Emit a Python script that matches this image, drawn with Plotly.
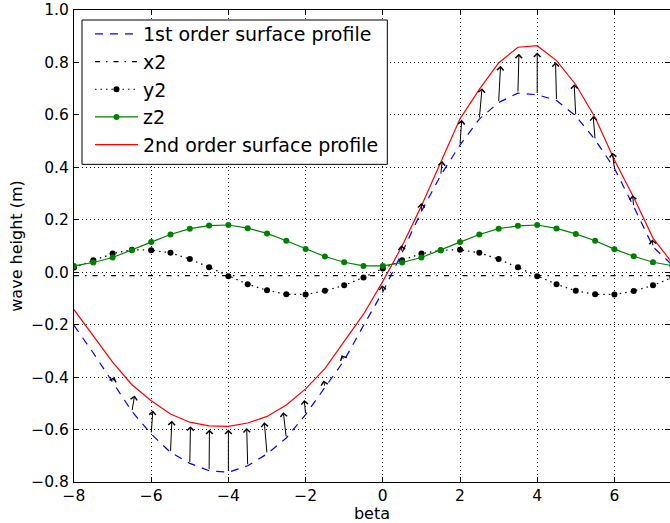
import plotly.graph_objects as go

beta = [-8, -7.5, -7, -6.5, -6, -5.5, -5, -4.5, -4, -3.5, -3, -2.5, -2, -1.5, -1, -0.5,
        0, 0.5, 1, 1.5, 2, 2.5, 3, 3.5, 4, 4.5, 5, 5.5, 6, 6.5, 7, 7.5]

eta1 = [-0.203, -0.308, -0.419, -0.531, -0.617, -0.687, -0.729, -0.757, -0.763, -0.738,
        -0.693, -0.632, -0.543, -0.438, -0.336, -0.203, -0.075, 0.075, 0.232, 0.370,
        0.485, 0.584, 0.647, 0.683, 0.677, 0.655, 0.596, 0.505, 0.396, 0.250, 0.097, 0.027]

x2 = [-0.013, -0.013, -0.013, -0.013, -0.013, -0.013, -0.013, -0.013, -0.013, -0.013,
      -0.013, -0.013, -0.013, -0.013, -0.013, -0.013, -0.013, -0.013, -0.013, -0.013,
      -0.013, -0.013, -0.013, -0.013, -0.013, -0.013, -0.013, -0.013, -0.013, -0.013,
      -0.013, -0.013]

y2 = [0.018, 0.046, 0.071, 0.086, 0.084, 0.074, 0.050, 0.019, -0.015, -0.046,
      -0.069, -0.084, -0.085, -0.071, -0.050, -0.020, 0.014, 0.046, 0.071, 0.084,
      0.086, 0.074, 0.050, 0.019, -0.015, -0.046, -0.071, -0.084, -0.085, -0.072,
      -0.050, -0.020]

z2 = [0.024, 0.037, 0.056, 0.084, 0.115, 0.144, 0.166, 0.178, 0.180, 0.168,
      0.148, 0.120, 0.089, 0.060, 0.038, 0.024, 0.024, 0.037, 0.056, 0.084,
      0.115, 0.144, 0.166, 0.177, 0.180, 0.167, 0.146, 0.120, 0.088, 0.061,
      0.038, 0.025]

eta2 = [-0.143, -0.245, -0.343, -0.429, -0.490, -0.541, -0.572, -0.586, -0.588, -0.575,
        -0.550, -0.506, -0.445, -0.368, -0.266, -0.160, -0.035, 0.100, 0.253, 0.420,
        0.585, 0.697, 0.798, 0.858, 0.864, 0.807, 0.715, 0.590, 0.428, 0.285, 0.130, 0.035]

# arrow displacement, tail at first-order profile
arrow_dx = [0.0, -0.02, 0.04, 0.07, 0.043, 0.035, 0.017, 0.009, 0.0, -0.026,
            -0.07, -0.078, -0.035, -0.035, -0.07, -0.03, -0.02, -0.02, 0.0, 0.04,
            0.043, 0.07, 0.05, 0.026, 0.0, -0.026, -0.043, -0.05, -0.05, -0.03,
            -0.02, 0.0]
arrow_dy = [0.013, 0.008, 0.019, 0.061, 0.090, 0.121, 0.142, 0.157, 0.163, 0.144,
            0.121, 0.098, 0.056, 0.025, 0.019, 0.005, 0.025, 0.028, 0.032, 0.054,
            0.096, 0.118, 0.140, 0.150, 0.161, 0.146, 0.121, 0.091, 0.060, 0.044,
            0.028, 0.008]

xticks = [-8, -6, -4, -2, 0, 2, 4, 6]
yticks = [-0.8, -0.6, -0.4, -0.2, 0.0, 0.2, 0.4, 0.6, 0.8, 1.0]

FONT = "DejaVu Sans"

fig = go.Figure()
fig.add_trace(go.Scatter(x=beta, y=eta1, mode="lines", name="1st order surface profile",
                         line=dict(color="#0000ff", width=1.2, dash="8px,7px")))
fig.add_trace(go.Scatter(x=beta, y=x2, mode="lines", name="x2",
                         line=dict(color="black", width=1.2, dash="5px,6px,1.5px,6px")))
fig.add_trace(go.Scatter(x=beta, y=y2, mode="lines+markers", name="y2",
                         line=dict(color="black", width=1.2, dash="1.5px,4px"),
                         marker=dict(color="black", size=6)))
fig.add_trace(go.Scatter(x=beta, y=z2, mode="lines+markers", name="z2",
                         line=dict(color="#008000", width=1.2),
                         marker=dict(color="#008000", size=6)))
fig.add_trace(go.Scatter(x=beta, y=eta2, mode="lines", name="2nd order surface profile",
                         line=dict(color="#ff0000", width=1.2)))

for xb, yb, dx, dy in zip(beta, eta1, arrow_dx, arrow_dy):
    fig.add_annotation(x=xb + dx, y=yb + dy, ax=xb, ay=yb, xref="x", yref="y",
                       axref="x", ayref="y", text="", showarrow=True,
                       arrowhead=4, arrowsize=1.3, arrowwidth=1, arrowcolor="black",
                       standoff=0, startstandoff=0)

axis_common = dict(showline=True, linecolor="black", linewidth=1.2, mirror="ticks",
                   ticks="inside", ticklen=5, tickwidth=1, tickcolor="black",
                   showgrid=True, gridcolor="black", gridwidth=1, griddash="1px,3px",
                   zeroline=False, tickfont=dict(family=FONT, size=15.5, color="black"))

fig.update_xaxes(range=[-8, 7.44], tickvals=xticks,
                 ticktext=[f"{v:d}".replace("-", "\u2212") for v in xticks],
                 ticklabelstandoff=-1,
                 title=dict(text="beta", font=dict(family=FONT, size=16, color="black"), standoff=1),
                 **axis_common)
fig.update_yaxes(range=[-0.8, 1.0], tickvals=yticks,
                 ticktext=[f"{v:.1f}".replace("-", "\u2212") for v in yticks],
                 ticklabelstandoff=1,
                 title=dict(text="wave height (m)", font=dict(family=FONT, size=16, color="black"), standoff=4),
                 **axis_common)

# legend frame
fig.add_shape(type="rect", xref="paper", yref="paper",
              x0=0.0134, x1=0.5257, y0=0.673, y1=0.9788,
              line=dict(color="black", width=1), fillcolor="white", layer="above")

fig.update_layout(
    width=670, height=523,
    margin=dict(l=74, r=0, t=10, b=41),
    paper_bgcolor="white", plot_bgcolor="white",
    font=dict(family=FONT, color="black"),
    legend=dict(x=0.0268, y=0.9894, xanchor="left", yanchor="top",
                bgcolor="rgba(0,0,0,0)", borderwidth=0, itemwidth=43,
                font=dict(family=FONT, size=19, color="black")),
)

fig.write_html("out.html")
